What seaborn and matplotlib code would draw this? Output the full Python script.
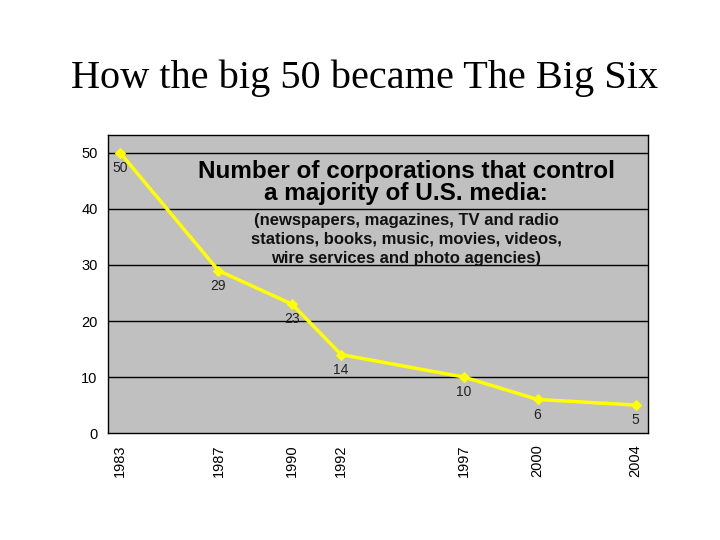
import pandas as pd
import numpy as np
import matplotlib
matplotlib.use("Agg")
import matplotlib.pyplot as plt
import seaborn as sns

# Data
years = [1983, 1987, 1990, 1992, 1997, 2000, 2004]
corporations = [50, 29, 23, 14, 10, 6, 5]
y_ticks = [0, 10, 20, 30, 40, 50]

df = pd.DataFrame({"year": years, "count": corporations})

sns.set_style("white")
plt.rcParams["font.family"] = ["Liberation Sans", "DejaVu Sans"]
plt.rcParams["text.color"] = "black"
plt.rcParams["xtick.color"] = "black"
plt.rcParams["ytick.color"] = "black"

fig = plt.figure(figsize=(7.2, 5.4), dpi=100)
ax = fig.add_axes([0.15, 0.198, 0.75, 0.552])
ax.set_facecolor("#C0C0C0")

# gridlines
for v in y_ticks[1:]:
    ax.axhline(v, color="black", lw=1, zorder=1)

sns.lineplot(data=df, x="year", y="count", ax=ax, color="#FFFF00", lw=2.5,
             marker="D", markersize=5, markeredgecolor="#FFFF00", zorder=3)

for yr, c in zip(years, corporations):
    ax.annotate(str(c), (yr, c), xytext=(0, -11), textcoords="offset points",
                ha="center", va="center", fontsize=10, color="#222222")

ax.set_xlim(1982.5, 2004.5)
ax.set_ylim(0, 53.2)
ax.set_xticks(years)
ax.set_xticklabels([str(y) for y in years], rotation=90, fontsize=10.5)
ax.set_xticks(np.arange(1982.5, 2005, 1), minor=True)
ax.tick_params(axis="x", which="major", length=0, pad=8)
ax.tick_params(axis="x", which="minor", length=4, direction="out", color="black")
ax.set_yticks(y_ticks)
ax.tick_params(axis="y", length=4, direction="out", labelsize=10.5, color="black")
ax.set_xlabel("")
ax.set_ylabel("")
for s in ax.spines.values():
    s.set_color("black")
    s.set_linewidth(1)

ax.text(0.552, 0.915, "Number of corporations that control\na majority of U.S. media:",
        transform=ax.transAxes, ha="center", va="top", fontsize=17.5,
        fontweight="bold", linespacing=0.95, zorder=4)
ax.text(0.552, 0.74, "(newspapers, magazines, TV and radio\nstations, books, music, movies, videos,\nwire services and photo agencies)",
        transform=ax.transAxes, ha="center", va="top", fontsize=12,
        fontweight="bold", linespacing=1.35, color="#111111", zorder=4)

fig.text(0.507, 0.855, "How the big 50 became The Big Six", ha="center", va="center",
         fontsize=29, family="Liberation Serif", color="black")

fig.savefig("out.png", dpi=100, facecolor="white")
